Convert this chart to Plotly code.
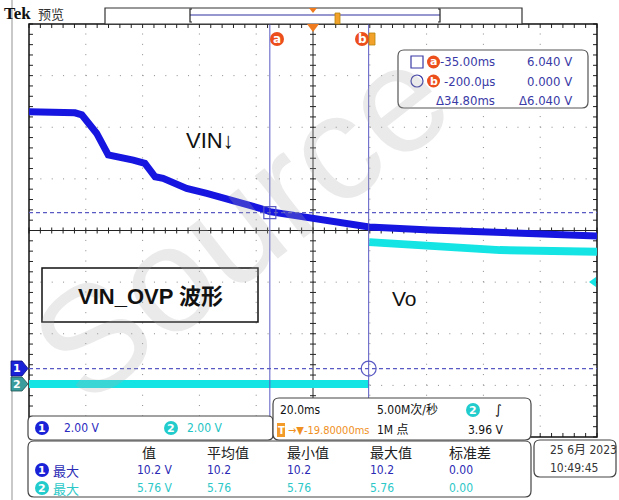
import plotly.graph_objects as go

# ---------------- data ----------------
# time in ms relative to trigger, voltage in V
ch1_t = [-119.8, -103.6, -101.2, -96.0, -91.9, -87.8, -83.1, -79.0, -75.4, -72.6,
         -70.1, -64.3, -57.2, -48.0, -38.5, -35.0, -27.9, -19.8, -10.3, 0.0,
         21.4, 46.0, 80.2]
ch1_v = [9.95, 9.91, 9.83, 9.12, 8.28, 8.21, 8.08, 7.95, 7.43, 7.37,
         7.24, 6.98, 6.79, 6.53, 6.21, 6.08, 5.95, 5.79, 5.64, 5.49,
         5.37, 5.25, 5.14]
ch2_t = [-119.8, -0.2, None, 0.0, 21.4, 46.0, 80.2]
ch2_v = [0.0, 0.0, None, 5.50, 5.32, 5.19, 5.13]

cursor_t = [-35.0, -0.2]
cursor_v = [6.04, 0.0]
trig_level_v2 = 3.96

cursor_rows = [["-35.00ms", "6.040 V"], ["-200.0µs", "0.000 V"], ["Δ34.80ms", "Δ6.040 V"]]
table_headers = ["值", "平均值", "最小值", "最大值", "标准差"]
table_ch1 = ["10.2 V", "10.2", "10.2", "10.2", "0.00"]
table_ch2 = ["5.76 V", "5.76", "5.76", "5.76", "0.00"]

# ---------------- geometry helpers (layout only) ----------------
W, H = 619, 500
L, R, T, B = 29, 597, 24, 437
PW, PH = R - L, B - T
X_RANGE = [-119.8, 80.2]
Y1_RANGE = [-2.65, 13.35]
Y2_RANGE = [-2.05, 13.95]


def px(x):
    return (x - L) / PW


def py(y):
    return (B - y) / PH


def rrect(x0, y0, x1, y1, r):
    def p(x, y):
        return f"{px(x):.5f},{py(y):.5f}"
    return (f"M{p(x0 + r, y0)} L{p(x1 - r, y0)} Q{p(x1, y0)} {p(x1, y0 + r)} "
            f"L{p(x1, y1 - r)} Q{p(x1, y1)} {p(x1 - r, y1)} L{p(x0 + r, y1)} "
            f"Q{p(x0, y1)} {p(x0, y1 - r)} L{p(x0, y0 + r)} Q{p(x0, y0)} {p(x0 + r, y0)} Z")


def poly(points):
    return "M" + " L".join(f"{px(x):.5f},{py(y):.5f}" for x, y in points) + " Z"


BLUE = "#1616e0"
CYAN = "#14e4e4"
CUR = "#5a5ac4"
ORANGE = "#f07a1e"
AORANGE = "#ec4e1c"
TXTB = "#3a3aa6"
NARROW = "DejaVu Sans Condensed, Liberation Sans Narrow, Liberation Sans, Noto Sans CJK SC, sans-serif"
CJK = "Noto Sans CJK SC, sans-serif"

fig = go.Figure()

# traces
fig.add_trace(go.Scatter(x=ch1_t, y=ch1_v, mode="lines", line=dict(color=BLUE, width=7),
                         hoverinfo="skip", showlegend=False))
fig.add_trace(go.Scatter(x=ch2_t, y=ch2_v, mode="lines", yaxis="y2", connectgaps=False,
                         line=dict(color=CYAN, width=8), hoverinfo="skip", showlegend=False))
# cursor markers
fig.add_trace(go.Scatter(x=[cursor_t[0]], y=[cursor_v[0]], mode="markers",
                         marker=dict(symbol="square-open", size=12, color=CUR, line=dict(width=1.2)),
                         hoverinfo="skip", showlegend=False))
fig.add_trace(go.Scatter(x=[cursor_t[1]], y=[cursor_v[1]], mode="markers",
                         marker=dict(symbol="circle-open", size=15, color=CUR, line=dict(width=1.2)),
                         hoverinfo="skip", showlegend=False))

shapes = []
# left bezel line
shapes.append(dict(type="line", xref="paper", yref="paper", x0=px(12), x1=px(12), y0=py(0), y1=py(500),
                   line=dict(color="#c9c9c9", width=2), layer="below"))
# dotted grid
for i in range(1, 10):
    if i == 5:
        continue
    shapes.append(dict(type="line", xref="paper", yref="paper", x0=i / 10, x1=i / 10, y0=0, y1=1,
                       line=dict(color="#8a8a8a", width=1, dash="1px,9.32px"), layer="below"))
for j in range(1, 8):
    if j == 4:
        continue
    shapes.append(dict(type="line", xref="paper", yref="paper", x0=0, x1=1, y0=j / 8, y1=j / 8,
                       line=dict(color="#8a8a8a", width=1, dash="1px,10.36px"), layer="below"))
# centre cross
shapes.append(dict(type="line", xref="paper", yref="paper", x0=0, x1=1, y0=0.5, y1=0.5,
                   line=dict(color="#222", width=1), layer="below"))
shapes.append(dict(type="line", xref="paper", yref="paper", x0=0.5, x1=0.5, y0=0, y1=1,
                   line=dict(color="#222", width=1), layer="below"))
# tick marks
segs = []
dx3, dy3 = 3 / PW, 3 / PH
dx4, dy4 = 4 / PW, 4 / PH
for k in range(51):
    x = k / 50
    segs.append(f"M{x:.5f},{0.5 - dy3:.5f} L{x:.5f},{0.5 + dy3:.5f}")
    segs.append(f"M{x:.5f},1 L{x:.5f},{1 - dy4:.5f}")
    segs.append(f"M{x:.5f},0 L{x:.5f},{dy4:.5f}")
for k in range(41):
    y = k / 40
    segs.append(f"M{0.5 - dx3:.5f},{y:.5f} L{0.5 + dx3:.5f},{y:.5f}")
    segs.append(f"M0,{y:.5f} L{dx4:.5f},{y:.5f}")
    segs.append(f"M1,{y:.5f} L{1 - dx4:.5f},{y:.5f}")
shapes.append(dict(type="path", xref="paper", yref="paper", path=" ".join(segs),
                   line=dict(color="#222", width=1), layer="below"))
# border
shapes.append(dict(type="rect", xref="paper", yref="paper", x0=0, x1=1, y0=0, y1=1,
                   line=dict(color="#111", width=1.5), layer="below"))

# cursors
for ct in cursor_t:
    shapes.append(dict(type="line", xref="x", yref="paper", x0=ct, x1=ct, y0=0, y1=1,
                       line=dict(color=CUR, width=1)))
for cv in cursor_v:
    shapes.append(dict(type="line", xref="paper", yref="y", x0=0, x1=1, y0=cv, y1=cv,
                       line=dict(color=CUR, width=1.2, dash="4px,3px")))

# record-length bar at top
shapes.append(dict(type="rect", xref="paper", yref="paper", x0=px(105), x1=px(522), y0=py(24), y1=py(8),
                   line=dict(color="#333", width=1.2), fillcolor="white"))
shapes.append(dict(type="line", xref="paper", yref="paper", x0=px(190), x1=px(440), y0=py(15), y1=py(15),
                   line=dict(color="#3030a0", width=1.2)))
for xb, d in [(190, 2), (440, -2)]:
    shapes.append(dict(type="path", xref="paper", yref="paper",
                       path=f"M{px(xb + d):.5f},{py(9):.5f} L{px(xb):.5f},{py(9):.5f} L{px(xb):.5f},{py(22):.5f} L{px(xb + d):.5f},{py(22):.5f}",
                       line=dict(color="#222", width=1.2)))
shapes.append(dict(type="rect", xref="paper", yref="paper", x0=px(335), x1=px(340), y0=py(24), y1=py(13),
                   line=dict(color="#b8860b", width=0.8), fillcolor="#f2a12a"))
shapes.append(dict(type="path", xref="paper", yref="paper", path=poly([(309, 8), (317, 8), (313, 13)]),
                   line=dict(width=0), fillcolor=ORANGE))
shapes.append(dict(type="path", xref="paper", yref="paper", path=poly([(307, 24), (319, 24), (313, 32)]),
                   line=dict(width=0), fillcolor=ORANGE))
# cursor labels a / b
for cx in (277, 362):
    shapes.append(dict(type="circle", xref="paper", yref="paper", x0=px(cx - 7), x1=px(cx + 7),
                       y0=py(46), y1=py(32), line=dict(width=0), fillcolor=AORANGE))
shapes.append(dict(type="rect", xref="paper", yref="paper", x0=px(369), x1=px(375), y0=py(45), y1=py(33),
                   line=dict(color="#b8860b", width=0.8), fillcolor="#f2a12a"))

# channel ground markers
shapes.append(dict(type="path", xref="paper", yref="paper",
                   path=poly([(11, 361), (22, 361), (28, 368.5), (22, 376), (11, 376)]),
                   line=dict(color="#0a0a80", width=0.8), fillcolor="#1a22d8"))
shapes.append(dict(type="path", xref="paper", yref="paper",
                   path=poly([(11, 377), (22, 377), (28, 384), (22, 391), (11, 391)]),
                   line=dict(color="#205050", width=0.8), fillcolor="#3a9c9c"))
# trigger level arrow (right)
shapes.append(dict(type="path", xref="paper", yref="paper",
                   path=poly([(589, 282), (596, 277), (596, 287)]),
                   line=dict(width=0), fillcolor=CYAN))

# annotation box VIN_OVP
shapes.append(dict(type="rect", xref="paper", yref="paper", x0=px(42), x1=px(258), y0=py(322), y1=py(268),
                   line=dict(color="#111", width=1.5), fillcolor="rgba(255,255,255,0)"))

# cursor readout box
shapes.append(dict(type="path", xref="paper", yref="paper", path=rrect(398, 50, 588, 108, 6),
                   line=dict(color="#555", width=1.2), fillcolor="white"))
shapes.append(dict(type="rect", xref="paper", yref="paper", x0=px(411), x1=px(423), y0=py(68), y1=py(56),
                   line=dict(color=TXTB, width=1.2)))
shapes.append(dict(type="circle", xref="paper", yref="paper", x0=px(411), x1=px(423), y0=py(87), y1=py(75),
                   line=dict(color=TXTB, width=1.2)))
for cy in (62, 81):
    shapes.append(dict(type="circle", xref="paper", yref="paper", x0=px(427), x1=px(440),
                       y0=py(cy + 6.5), y1=py(cy - 6.5), line=dict(width=0), fillcolor=AORANGE))

# bottom info boxes
shapes.append(dict(type="path", xref="paper", yref="paper", path=rrect(28, 416, 273, 440, 5),
                   line=dict(color="#444", width=1.2), fillcolor="white"))
shapes.append(dict(type="path", xref="paper", yref="paper", path=rrect(273, 398, 531, 440, 6),
                   line=dict(color="#444", width=1.2), fillcolor="white"))
shapes.append(dict(type="path", xref="paper", yref="paper", path=rrect(28, 441, 531, 497, 6),
                   line=dict(color="#444", width=1.2), fillcolor="white"))
shapes.append(dict(type="path", xref="paper", yref="paper", path=rrect(534, 440, 616, 477, 6),
                   line=dict(color="#444", width=1.2), fillcolor="white"))
# channel badges
badges = [(42, 428, "#1a22d8"), (171, 428, "#22cccc"), (42, 470, "#1a22d8"), (42, 488, "#22cccc"),
          (473, 410, "#22cccc")]
for bx, by, bc in badges:
    shapes.append(dict(type="circle", xref="paper", yref="paper", x0=px(bx - 7), x1=px(bx + 7),
                       y0=py(by + 7), y1=py(by - 7), line=dict(width=0), fillcolor=bc))
shapes.append(dict(type="rect", xref="paper", yref="paper", x0=px(277), x1=px(285), y0=py(437), y1=py(423),
                   line=dict(width=0), fillcolor="#f29a2a"))

ann = []


def text(x, y, s, size=12, color="#111", family=NARROW, xanchor="left", bold=False, angle=0):
    if bold:
        s = f"<b>{s}</b>"
    ann.append(dict(x=px(x), y=py(y), xref="paper", yref="paper", text=s, showarrow=False,
                    xanchor=xanchor, yanchor="middle", textangle=angle,
                    font=dict(size=size, color=color, family=family)))


# watermark
text(240, 222, "Source", size=150, color="rgba(170,170,170,0.25)",
     family="Liberation Sans, Arial, sans-serif", xanchor="center", angle=-38)

# header
text(2, 14, "Tek", size=17, color="#111", family="Liberation Serif, DejaVu Serif, serif", bold=True)
text(36, 14, "预览", size=13, color="#333", family=CJK)
# cursor labels
text(277, 39, "a", size=12, color="white", family="DejaVu Sans, sans-serif", xanchor="center", bold=True)
text(362, 39, "b", size=12, color="white", family="DejaVu Sans, sans-serif", xanchor="center", bold=True)
# cursor readout
for i, (ts, vs) in enumerate(cursor_rows):
    yy = [62, 81, 100][i]
    text(497, yy, ts, size=13, color=TXTB, xanchor="right")
    text(574, yy, vs, size=13, color=TXTB, xanchor="right")
text(433.5, 62, "a", size=11, color="white", family="DejaVu Sans, sans-serif", xanchor="center", bold=True)
text(433.5, 81, "b", size=11, color="white", family="DejaVu Sans, sans-serif", xanchor="center", bold=True)
# channel markers
text(17, 368.5, "1", size=11, color="white", family="DejaVu Sans, sans-serif", xanchor="center", bold=True)
text(17, 384, "2", size=11, color="white", family="DejaVu Sans, sans-serif", xanchor="center", bold=True)
# waveform labels
text(184, 140, "VIN↓", size=22, color="#111", family="Liberation Sans, Arial, sans-serif")
text(390, 298, "Vo", size=21, color="#111", family="Liberation Sans, Arial, sans-serif")
text(150, 296, "VIN_OVP 波形", size=22, color="#111", family="Liberation Sans, Noto Sans CJK SC, sans-serif",
     xanchor="center", bold=True)
# box 1
text(42, 428, "1", size=11, color="white", family="DejaVu Sans, sans-serif", xanchor="center", bold=True)
text(62, 428, "2.00 V", size=12, color="#2a2ac0")
text(171, 428, "2", size=11, color="white", family="DejaVu Sans, sans-serif", xanchor="center", bold=True)
text(185, 428, "2.00 V", size=12, color="#22c4c4")
# box 2
text(278, 410, "20.0ms", size=12)
text(375, 410, "5.00M次/秒", size=12)
text(473, 410, "2", size=11, color="white", family="DejaVu Sans, sans-serif", xanchor="center", bold=True)
text(493, 409, "∫", size=13, color="#111", family="DejaVu Sans, sans-serif")
text(281, 430, "T", size=10, color="white", family="DejaVu Sans, sans-serif", xanchor="center", bold=True)
text(286, 430, "→▼-19.80000ms", size=11, color="#f0901e")
text(375, 430, "1M 点", size=12)
text(505, 430, "3.96 V", size=12, xanchor="right")
# table
hx = [140, 205, 285, 368, 447]
for x, s in zip(hx, table_headers):
    text(x, 452, s, size=14, color="#222", family=CJK)
for x, s in zip(hx, table_ch1):
    text(x - 5 if s.endswith("V") else x, 470, s, size=12, color="#2a2ab4")
for x, s in zip(hx, table_ch2):
    text(x - 5 if s.endswith("V") else x, 488, s, size=12, color="#2cc8c8")
text(42, 470, "1", size=11, color="white", family="DejaVu Sans, sans-serif", xanchor="center", bold=True)
text(42, 488, "2", size=11, color="white", family="DejaVu Sans, sans-serif", xanchor="center", bold=True)
text(51, 470, "最大", size=13, color="#2a2ab4", family=CJK)
text(51, 488, "最大", size=13, color="#2cc8c8", family=CJK)
# date
text(548, 450, "25 6月 2023", size=12, color="#333")
text(548, 468, "10:49:45", size=12, color="#333")

fig.update_layout(
    width=W, height=H,
    margin=dict(l=L, r=W - R, t=T, b=H - B, pad=0),
    paper_bgcolor="white", plot_bgcolor="white",
    xaxis=dict(range=X_RANGE, visible=False, showgrid=False, zeroline=False, fixedrange=True),
    yaxis=dict(range=Y1_RANGE, visible=False, showgrid=False, zeroline=False, fixedrange=True),
    yaxis2=dict(range=Y2_RANGE, visible=False, showgrid=False, zeroline=False, overlaying="y",
                fixedrange=True),
    shapes=shapes, annotations=ann, showlegend=False,
)
fig.write_html(
    "out.html",
    config={"displayModeBar": False},
    post_script=("document.body.style.margin='0';document.body.style.overflow='hidden';"
                 "document.documentElement.style.overflow='hidden';"),
)
